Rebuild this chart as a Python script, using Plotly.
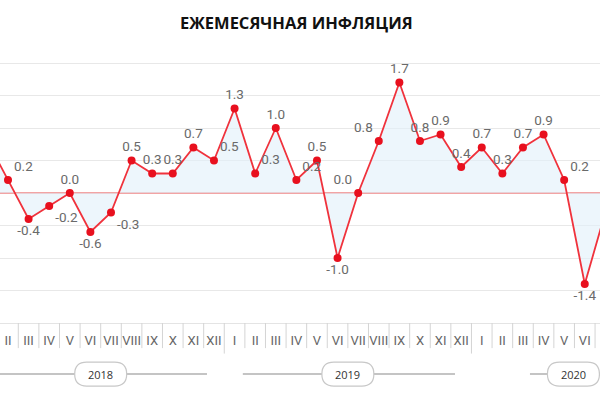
import plotly.graph_objects as go

# ---- data ----
years = [2018] * 12 + [2019] * 12 + [2020] * 7
months = ["I", "II", "III", "IV", "V", "VI", "VII", "VIII", "IX", "X", "XI", "XII"] * 2 + \
         ["I", "II", "III", "IV", "V", "VI", "VII"]
inflation = [0.8, 0.2, -0.4, -0.2, 0.0, -0.6, -0.3, 0.5, 0.3, 0.3, 0.7, 0.5,
             1.3, 0.3, 1.0, 0.2, 0.5, -1.0, 0.0, 0.8, 1.7, 0.8, 0.9, 0.4,
             0.7, 0.3, 0.7, 0.9, 0.2, -1.4, -0.3]
year_labels = ["2018", "2019", "2020"]

x_range = [0.612, 29.74]

# label placement (style)
overrides = {1: "top right", 3: "bottom right", 6: "bottom right", 11: "top right",
             13: "top right", 15: "top right", 18: "top left", 19: "top left",
             28: "top right"}
label_pos = [overrides.get(i, "top center" if v >= 0 else "bottom center")
             for i, v in enumerate(inflation)]

idx = list(range(len(inflation)))
labels = [f"{v:.1f}" if x_range[0] <= i <= x_range[1] else "" for i, v in zip(idx, inflation)]

fig = go.Figure()
fig.add_trace(go.Scatter(
    x=idx, y=inflation, mode="lines+markers+text",
    line=dict(color="#f0323c", width=1.8),
    marker=dict(color="#e8101e", size=8),
    fill="tozeroy", fillcolor="rgba(225,240,250,0.6)",
    text=labels,
    textposition=label_pos,
    textfont=dict(family="Roboto, sans-serif", size=13.5, color="#6a6a6a"),
    cliponaxis=True, hoverinfo="skip", showlegend=False,
))

shapes = []
# month separators under the axis
for i in range(len(inflation)):
    b = i + 0.5
    long = (i + 1) % 12 == 0
    shapes.append(dict(type="line", xref="x", yref="paper", x0=b, x1=b,
                       y0=0, y1=-0.112 if long else -0.092,
                       line=dict(color="#d4d4d4", width=1)))

# year group lines and pills (pixel-sized relative to anchors)
groups = [
    (year_labels[0], -0.6, 10.66, 5.5),
    (year_labels[1], 12.4, 22.7, 17.5),
    (year_labels[2], 26.34, 31.0, 28.45),
]
pill_path = "M -14,-12 L 14,-12 Q 26,-12 26,0 Q 26,12 14,12 L -14,12 Q -26,12 -26,0 Q -26,-12 -14,-12 Z"
annotations = []
for lab, x0, x1, xc in groups:
    shapes.append(dict(type="line", xref="x", yref="paper", x0=x0, x1=x1,
                       y0=-0.187, y1=-0.187, line=dict(color="#b0b0b0", width=1.5)))
    shapes.append(dict(type="path", xref="x", yref="paper", xsizemode="pixel", ysizemode="pixel",
                       xanchor=xc, yanchor=-0.187, path=pill_path,
                       fillcolor="white", line=dict(color="#c8c8c8", width=1.2)))
    annotations.append(dict(x=xc, y=-0.187, xref="x", yref="paper", text=lab, showarrow=False,
                            font=dict(family="Open Sans, sans-serif", size=11, color="#333333"),
                            xanchor="center", yanchor="middle"))

fig.update_layout(
    width=600, height=400,
    margin=dict(l=0, r=0, t=50, b=77),
    paper_bgcolor="white", plot_bgcolor="white",
    title=dict(text="<b>ЕЖЕМЕСЯЧНАЯ ИНФЛЯЦИЯ</b>", x=0.494, xanchor="center", y=0.942, yanchor="middle",
               font=dict(family="Open Sans, sans-serif", size=16.5, color="#111111")),
    xaxis=dict(range=x_range, tickmode="array", tickvals=idx, ticktext=months,
               showgrid=False, zeroline=False, ticks="", showline=True, linecolor="#e4e4e4",
               tickfont=dict(family="Roboto, sans-serif", size=13, color="#666666"),
               ticklabelstandoff=5),
    yaxis=dict(range=[-2.0, 2.2], tick0=0, dtick=0.5, showticklabels=False,
               showgrid=True, gridcolor="#e8e8e8", gridwidth=1,
               zeroline=True, zerolinecolor="#f2a4a4", zerolinewidth=2),
    shapes=shapes, annotations=annotations,
)

fig.write_html("out.html")
